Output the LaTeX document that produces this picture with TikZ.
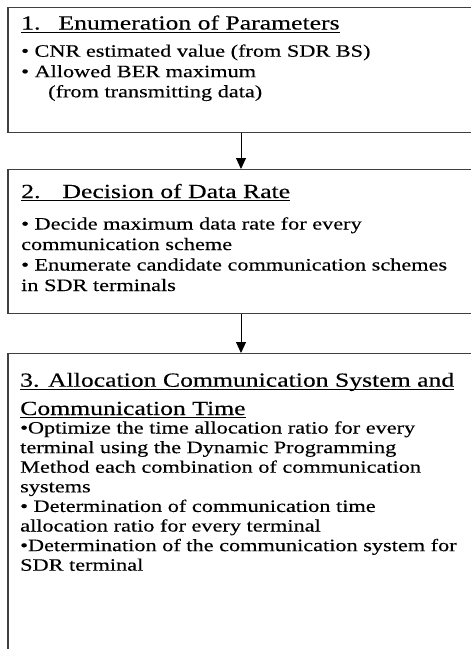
\documentclass[tikz,border=0pt]{standalone}
\usepackage{fontspec}
\setmainfont{Liberation Serif}[FakeStretch=1.28,FakeBold=0.3]
\newfontfamily\ttlfont{Liberation Serif}[FakeStretch=1.285,FakeBold=0.3]
\usetikzlibrary{arrows.meta}
\tikzset{
  box/.style={draw=black!75, line width=1.3pt, rectangle, inner sep=0pt, anchor=north west},
  ttl/.style={anchor=base west, inner sep=0pt, font=\ttlfont\fontsize{20}{23}\selectfont},
  txt/.style={anchor=base west, inner sep=0pt, font=\fontsize{17.4}{20}\selectfont},
  ulline/.style={line width=1.2pt},
  flow/.style={line width=1pt, -{Triangle[length=11pt,width=10pt]}},
}
\begin{document}
\begin{tikzpicture}[x=1pt,y=-1pt]
\useasboundingbox (0,0) rectangle (471,649);
\clip (0,0) rectangle (471,649);
% boxes
\node[box, minimum width=473pt, minimum height=125.3pt] (b1) at (7.3,6.7) {};
\node[box, minimum width=473pt, minimum height=144pt] (b2) at (7.3,169) {};
\node[box, minimum width=473pt, minimum height=330pt] (b3) at (7.3,353) {};
% arrows
\coordinate (ax) at (241,0);
\draw[flow] (b1.south -| ax) -- (b2.north -| ax);
\draw[flow] (b2.south -| ax) -- (b3.north -| ax);
% box 1
\node[ttl] (h1) at (21,29.5) {1.\hspace{18pt}Enumeration of Parameters};
\draw[ulline] ([yshift=-2.6pt]h1.base west) -- ([yshift=-2.6pt]h1.base east);
\node[txt] (p11) at (21,56.7) {• CNR estimated value (from SDR BS)};
\node[txt] (p12) at (21,77.2) {• Allowed BER maximum};
\node[txt] (p13) at (48,97.3) {(from transmitting data)};
% box 2
\node[ttl] (h2) at (21,198) {2.\hspace{22pt}Decision of Data Rate};
\draw[ulline] ([yshift=-2.6pt]h2.base west) -- ([yshift=-2.6pt]h2.base east);
\node[txt] (p21) at (21,229.5) {• Decide maximum data rate for every};
\node[txt] (p22) at (21,250) {communication scheme};
\node[txt] (p23) at (21,270.5) {• Enumerate candidate communication schemes};
\node[txt] (p24) at (21,291) {in SDR terminals};
% box 3
\node[ttl] (h3) at (20,386.7) {3. Allocation Communication System and};
\draw[ulline] ([yshift=-2.6pt]h3.base west) -- ([yshift=-2.6pt]h3.base east);
\node[ttl] (h4) at (20,415) {Communication Time};
\draw[ulline] ([yshift=-2.6pt]h4.base west) -- ([yshift=-2.6pt]h4.base east);
\node[txt] (p31) at (20,433.5) {•Optimize the time allocation ratio for every};
\node[txt] (p32) at (20,453.1) {terminal using the Dynamic Programming};
\node[txt] (p33) at (20,472.7) {Method each combination of communication};
\node[txt] (p34) at (20,492.3) {systems};
\node[txt] (p35) at (20,511.9) {• Determination of communication time};
\node[txt] (p36) at (20,531.5) {allocation ratio for every terminal};
\node[txt] (p37) at (20,551.1) {•Determination of the communication system for};
\node[txt] (p38) at (20,570.7) {SDR terminal};
\end{tikzpicture}
\end{document}
